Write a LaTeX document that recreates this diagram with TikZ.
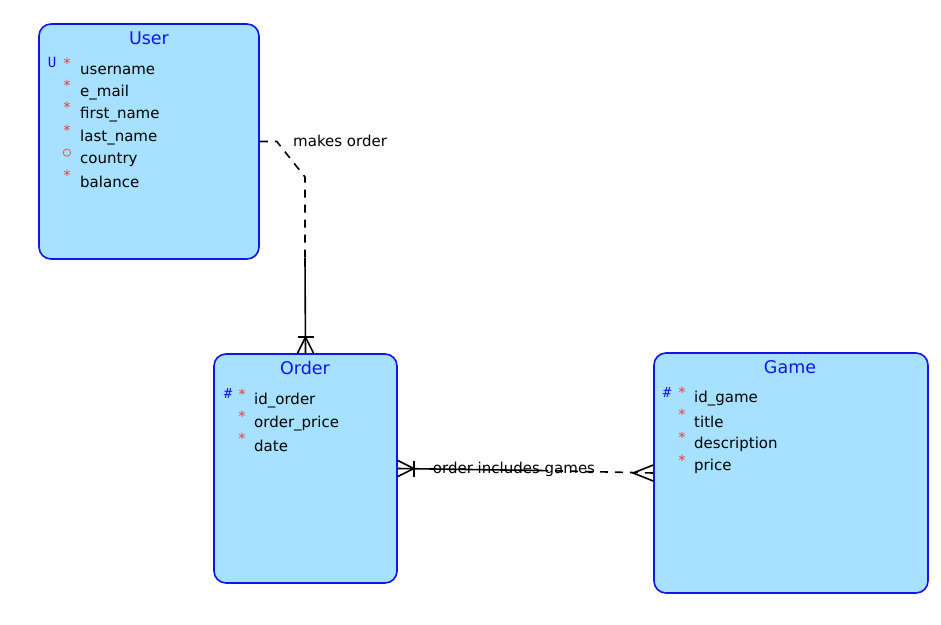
\documentclass[tikz,border=0pt]{standalone}
\usepackage{fontspec}
\setmainfont{DejaVu Sans}
\newfontfamily\markfont{DejaVu Sans Mono}
\usepackage{tikz}
\usetikzlibrary{positioning,calc}
\definecolor{entityfill}{RGB}{166,225,255}
\definecolor{entityblue}{RGB}{20,20,235}
\definecolor{markred}{RGB}{235,55,55}

\begin{document}
\begin{tikzpicture}[x=1pt,y=-1pt,
    entity/.style={draw=entityblue,fill=entityfill,line width=1.6pt,rounded corners=12pt,inner sep=0pt},
    title/.style={text=entityblue,inner sep=0pt,font=\fontsize{17.5}{20}\selectfont},
    attr/.style={anchor=west,inner sep=0pt,font=\fontsize{15}{18}\selectfont},
    req/.style={text=markred,inner sep=0pt,font=\fontsize{14}{16}\selectfont\markfont},
    key/.style={text=entityblue,inner sep=0pt,font=\fontsize{14}{16}\selectfont\markfont},
    rel/.style={line width=1.6pt,black},
    opt/.style={rel,dash pattern=on 8pt off 7pt}]
    \useasboundingbox (0,0) rectangle (941,624);

    % entities
    \node[entity,minimum width=220pt,minimum height=235pt] (user) at (149,141.5) {};
    \node[entity,minimum width=183pt,minimum height=229pt] (order) at (305.5,468.5) {};
    \node[entity,minimum width=274pt,minimum height=240pt] (game) at (791,473) {};
    \node[title] (userT) at (149,38) {User};
    \node[title] (orderT) at (305,368) {Order};
    \node[title] (gameT) at (790,367) {Game};

    % attributes
    \foreach \txt [count=\i] in {username,e\_mail,first\_name,last\_name,country,balance}
        \node[attr] (u\i) at (80,{70+22.4*(\i-1)}) {\txt};
    \foreach \i in {1,2,3,4,6}
        \node[req] at ([xshift=-13pt,yshift=7pt]u\i.west) {*};
    \node[key] (uU) at ([xshift=-28pt,yshift=8pt]u1.west) {U};
    \node[text=markred,inner sep=0pt,font=\fontsize{13}{15}\selectfont\markfont] (uO) at ([xshift=-13pt,yshift=6pt]u5.west) {○};

    \foreach \txt [count=\i] in {id\_order,order\_price,date}
        \node[attr] (o\i) at (254,{401+22.2*(\i-1)}) {\txt};
    \foreach \i in {1,2,3}
        \node[req] at ([xshift=-12pt,yshift=7pt]o\i.west) {*};
    \node[key] (oK) at ([xshift=-26pt,yshift=8pt]o1.west) {\#};

    \foreach \txt [count=\i] in {id\_game,title,description,price}
        \node[attr] (g\i) at (694,{399+22.6*(\i-1)}) {\txt};
    \foreach \i in {1,2,3,4}
        \node[req] at ([xshift=-12pt,yshift=7pt]g\i.west) {*};
    \node[key] (gK) at ([xshift=-27pt,yshift=7pt]g1.west) {\#};

    % User -- Order
    \coordinate (uoA) at ($(user.east)+(17,0)$);
    \coordinate (uoB) at (305,177);
    \coordinate (uoC) at (305,258);
    \draw[opt] (user.east) -- (uoA) -- (uoB) -- (uoC);
    \draw[rel] (uoC) -- (order.north);
    \draw[rel] ($(order.north)+(-8,0)$) -- ($(order.north)+(0,-16)$) -- ($(order.north)+(8,0)$);
    \draw[rel] ($(order.north)+(-8,-16)$) -- ($(order.north)+(8,-16)$);
    \node[anchor=west,inner sep=0pt,font=\fontsize{15}{18}\selectfont] (uoL) at (293,141) {makes order};

    % Order -- Game
    \coordinate (ogA) at (540,470.5);
    \draw[rel] (order.east) -- (ogA);
    \draw[opt] (ogA) -- (game.west);
    \draw[rel] ($(order.east)+(0,-8)$) -- ($(order.east)+(16,0)$) -- ($(order.east)+(0,8)$);
    \draw[rel] ($(order.east)+(16,-8)$) -- ($(order.east)+(16,8)$);
    \draw[rel] ($(game.west)+(0,-8)$) -- ($(game.west)+(-20,0)$) -- ($(game.west)+(0,8)$);
    \node[inner sep=0pt,font=\fontsize{15}{18}\selectfont] (ogL) at (514,469) {order includes games};
\end{tikzpicture}
\end{document}
